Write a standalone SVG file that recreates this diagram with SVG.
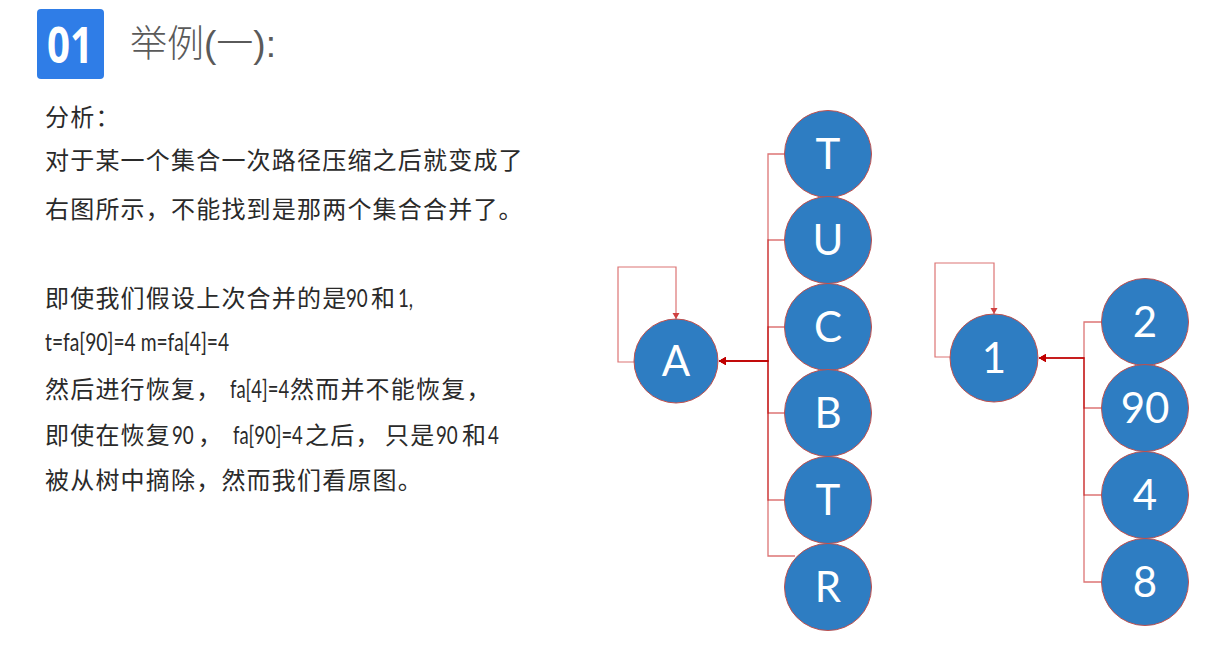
<svg xmlns="http://www.w3.org/2000/svg" width="1218" height="649" viewBox="0 0 1218 649">
<style>
.cn{font-family:"Noto Sans CJK SC","Noto Sans",sans-serif;font-size:24px;letter-spacing:1.2px;fill:#2a2a2a;font-weight:400}
.lt{font-family:Lato,"Open Sans",sans-serif;font-size:25px;letter-spacing:0;fill:#2a2a2a;font-weight:400}
.title{font-family:"Noto Sans CJK SC",sans-serif;font-size:37px;fill:#5a5a5a;font-weight:300}
.tl{font-family:"Liberation Sans",sans-serif;font-weight:300}
.node circle{fill:#2E7DC2;stroke:#C0504D;stroke-width:1}
.node text{font-family:Lato,"Open Sans",sans-serif;font-size:42px;fill:#fff;text-anchor:middle}
.conn path{fill:none;stroke:#C00000;stroke-opacity:0.55;stroke-width:1.3}
.loop path{fill:none;stroke:#C00000;stroke-opacity:0.55;stroke-width:1.2}
</style>
<defs>
<marker id="ah" markerUnits="userSpaceOnUse" markerWidth="10" markerHeight="10" refX="7" refY="4" orient="auto">
<path d="M0,0 L7,4 L0,8 Z" fill="#C00000"/>
</marker>
<marker id="ahs" markerUnits="userSpaceOnUse" markerWidth="8" markerHeight="8" refX="6" refY="3.5" orient="auto">
<path d="M0,0 L6,3.5 L0,7 Z" fill="#D04040"/>
</marker>
</defs>
<rect width="1218" height="649" fill="#fff"/>
<g id="header">
<rect x="37" y="9" width="67" height="70" rx="4" fill="#2F7DE7"/>
<text x="47" y="63" font-family="'Open Sans',Lato,sans-serif" font-weight="700" font-size="50" fill="#fff" textLength="46" lengthAdjust="spacingAndGlyphs">01</text>
<text class="title" x="130" y="57">举例<tspan class="tl">(</tspan>一<tspan class="tl">):</tspan></text>
</g>
<g id="body-text">
<text class="cn" x="45" y="126">分析：</text>
<text class="cn" x="45" y="169">对于某一个集合一次路径压缩之后就变成了</text>
<text class="cn" x="45" y="218">右图所示，不能找到是那两个集合合并了。</text>
<text class="cn" x="45" y="307">即使我们假设上次合并的是</text>
<text class="lt" transform="translate(346,307) scale(0.75,1)">90</text>
<text class="cn" x="371" y="307">和</text>
<text class="lt" transform="translate(398,307) scale(0.75,1)">1,</text>
<text class="lt" transform="translate(45,351) scale(0.77,1)" font-size="24">t=fa[90]=4 m=fa[4]=4</text>
<text class="cn" x="45" y="398">然后进行恢复，</text>
<text class="lt" transform="translate(230,398) scale(0.74,1)">fa[4]=4</text>
<text class="cn" x="290" y="398">然而并不能恢复，</text>
<text class="cn" x="45" y="444">即使在恢复</text>
<text class="lt" transform="translate(172,444) scale(0.75,1)">90</text>
<text class="cn" x="198" y="444">，</text>
<text class="lt" transform="translate(233,444) scale(0.74,1)">fa[90]=4</text>
<text class="cn" x="305" y="444">之后，</text>
<text class="cn" x="385" y="444">只是</text>
<text class="lt" transform="translate(436,444) scale(0.75,1)">90</text>
<text class="cn" x="462" y="444">和</text>
<text class="lt" transform="translate(488,444) scale(0.75,1)">4</text>
<text class="cn" x="45" y="489">被从树中摘除，然而我们看原图。</text>
</g>
<g id="connectors">
<g class="conn">
<path d="M785,154 H768 V361 H719" marker-end="url(#ah)"/>
<path d="M785,240 H768 V361 H719" marker-end="url(#ah)"/>
<path d="M785,327 H768 V361 H719" marker-end="url(#ah)"/>
<path d="M785,413 H768 V361 H719" marker-end="url(#ah)"/>
<path d="M785,500 H768 V361 H719" marker-end="url(#ah)"/>
<path d="M795,556 H768 V361 H719" marker-end="url(#ah)"/>
<path d="M1102,322 H1084 V358 H1039" marker-end="url(#ah)"/>
<path d="M1102,408 H1084 V358 H1039" marker-end="url(#ah)"/>
<path d="M1102,495 H1084 V358 H1039" marker-end="url(#ah)"/>
<path d="M1102,582 H1084 V358 H1039" marker-end="url(#ah)"/>
</g>
<g class="loop">
<path d="M635,362 H618 V267 H676 V319" marker-end="url(#ahs)"/>
<path d="M951,357 H935 V263 H994 V314" marker-end="url(#ahs)"/>
</g>
</g>
<g id="node-A" class="node"><circle cx="676" cy="361" r="42"/><text x="676" y="376">A</text></g>
<g id="node-T1" class="node"><circle cx="828" cy="154" r="43.5"/><text x="828" y="169">T</text></g>
<g id="node-U" class="node"><circle cx="828" cy="240" r="43.5"/><text x="828" y="255">U</text></g>
<g id="node-C" class="node"><circle cx="828" cy="327" r="43.5"/><text x="828" y="342">C</text></g>
<g id="node-B" class="node"><circle cx="828" cy="413" r="43.5"/><text x="828" y="428">B</text></g>
<g id="node-T2" class="node"><circle cx="828" cy="500" r="43.5"/><text x="828" y="515">T</text></g>
<g id="node-R" class="node"><circle cx="828" cy="587" r="43.5"/><text x="828" y="602">R</text></g>
<g id="node-1" class="node"><circle cx="994" cy="358" r="44"/><text x="994" y="373">1</text></g>
<g id="node-2" class="node"><circle cx="1145" cy="322" r="43.5"/><text x="1145" y="337">2</text></g>
<g id="node-90" class="node"><circle cx="1145" cy="408" r="43.5"/><text x="1145" y="423">90</text></g>
<g id="node-4" class="node"><circle cx="1145" cy="495" r="43.5"/><text x="1145" y="510">4</text></g>
<g id="node-8" class="node"><circle cx="1145" cy="582" r="43.5"/><text x="1145" y="597">8</text></g>
</svg>
